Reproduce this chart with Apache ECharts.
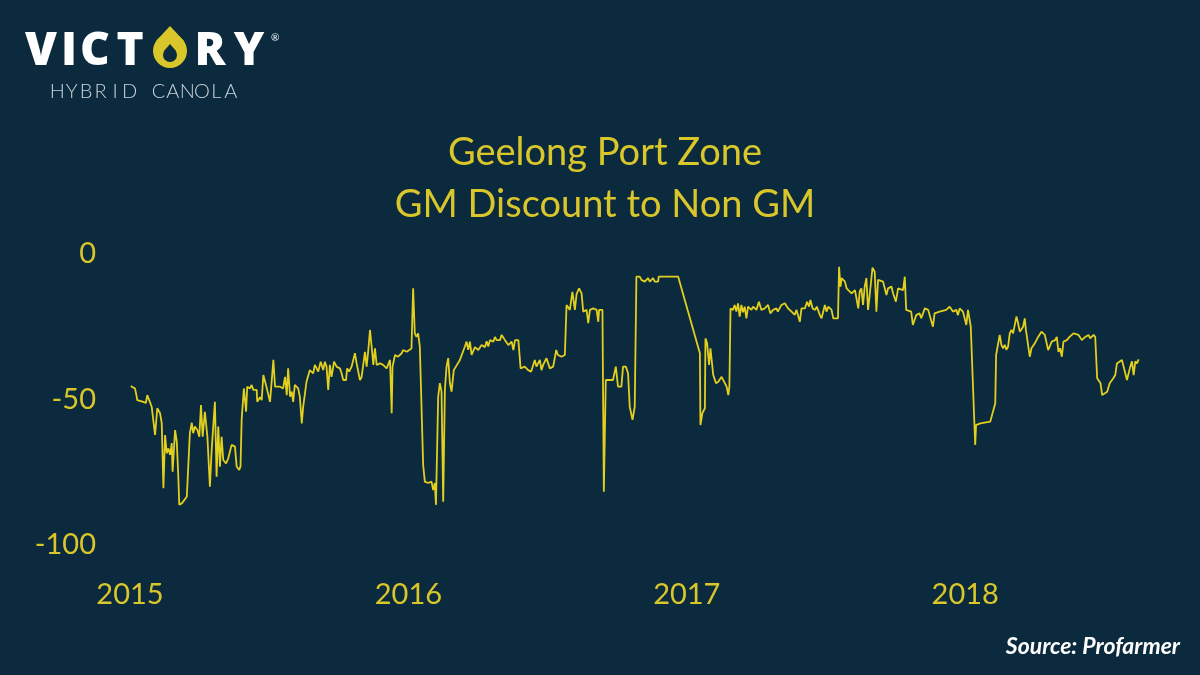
<!DOCTYPE html>
<html>
<head>
<meta charset="utf-8">
<script src="https://cdn.jsdelivr.net/npm/echarts@6/dist/echarts.min.js"></script>
<style>
html,body{margin:0;padding:0;background:#0b2a3d;}
#chart{width:1200px;height:675px;}
</style>
</head>
<body>
<div id="chart"></div>
<script>
// Time in decimal years
const years = [
2015.003,2015.018,2015.024,2015.026,2015.048,2015.057,2015.062,2015.078,2015.090,2015.098,
2015.108,2015.114,2015.120,2015.126,2015.132,2015.138,2015.144,2015.150,2015.153,2015.162,
2015.168,2015.173,2015.177,2015.186,2015.191,2015.204,2015.215,2015.222,2015.227,2015.233,
2015.242,2015.249,2015.255,2015.261,2015.269,2015.278,2015.287,2015.293,2015.305,2015.311,
2015.317,2015.323,2015.329,2015.335,2015.345,2015.353,2015.365,2015.377,2015.383,2015.392,
2015.397,2015.401,2015.409,2015.417,2015.421,2015.431,2015.437,2015.443,2015.455,2015.457,
2015.467,2015.473,2015.479,2015.491,2015.503,2015.515,2015.521,2015.539,2015.550,2015.557,
2015.563,2015.568,2015.575,2015.581,2015.586,2015.592,2015.599,2015.604,2015.610,2015.617,
2015.622,2015.634,2015.646,2015.658,2015.664,2015.676,2015.685,2015.694,2015.700,2015.706,
2015.712,2015.718,2015.724,2015.733,2015.742,2015.754,2015.760,2015.766,2015.776,2015.780,
2015.787,2015.796,2015.808,2015.814,2015.826,2015.832,2015.844,2015.850,2015.856,2015.862,
2015.868,2015.874,2015.880,2015.886,2015.892,2015.898,2015.909,2015.922,2015.927,2015.934,
2015.940,2015.943,2015.952,2015.963,2015.976,2015.981,2015.994,2015.999,2016.011,2016.017,
2016.023,2016.029,2016.035,2016.041,2016.053,2016.059,2016.071,2016.083,2016.089,2016.095,
2016.099,2016.107,2016.113,2016.119,2016.125,2016.131,2016.137,2016.143,2016.149,2016.155,
2016.161,2016.163,2016.185,2016.203,2016.209,2016.215,2016.221,2016.227,2016.239,2016.251,
2016.263,2016.275,2016.281,2016.287,2016.293,2016.305,2016.311,2016.317,2016.329,2016.335,
2016.347,2016.359,2016.371,2016.377,2016.383,2016.395,2016.400,2016.403,2016.418,2016.430,
2016.441,2016.454,2016.460,2016.472,2016.478,2016.484,2016.496,2016.508,2016.520,2016.531,
2016.537,2016.550,2016.562,2016.565,2016.568,2016.580,2016.589,2016.598,2016.604,2016.613,
2016.622,2016.628,2016.640,2016.646,2016.652,2016.664,2016.676,2016.682,2016.685,2016.697,
2016.702,2016.709,2016.735,2016.745,2016.753,2016.765,2016.771,2016.781,2016.789,2016.795,
2016.801,2016.805,2016.813,2016.819,2016.831,2016.837,2016.843,2016.849,2016.861,2016.867,
2016.879,2016.885,2016.897,2016.899,2016.969,2017.047,2017.049,2017.056,2017.065,2017.067,
2017.073,2017.080,2017.085,2017.095,2017.105,2017.113,2017.125,2017.131,2017.143,2017.149,
2017.153,2017.157,2017.166,2017.172,2017.178,2017.184,2017.190,2017.196,2017.202,2017.208,
2017.214,2017.220,2017.232,2017.238,2017.250,2017.259,2017.268,2017.280,2017.292,2017.300,
2017.310,2017.322,2017.327,2017.340,2017.352,2017.364,2017.376,2017.388,2017.394,2017.406,
2017.412,2017.424,2017.432,2017.439,2017.444,2017.452,2017.461,2017.467,2017.478,2017.484,
2017.496,2017.502,2017.508,2017.520,2017.526,2017.543,2017.547,2017.552,2017.556,2017.568,
2017.574,2017.592,2017.604,2017.616,2017.621,2017.627,2017.633,2017.639,2017.645,2017.651,
2017.657,2017.667,2017.675,2017.681,2017.687,2017.693,2017.705,2017.717,2017.723,2017.735,
2017.741,2017.751,2017.759,2017.765,2017.777,2017.783,2017.788,2017.806,2017.812,2017.824,
2017.836,2017.842,2017.855,2017.867,2017.879,2017.884,2017.890,2017.908,2017.914,2017.932,
2017.944,2017.956,2017.968,2017.974,2017.980,2017.992,2017.998,2018.004,2018.010,2018.016,
2018.020,2018.033,2018.036,2018.039,2018.054,2018.090,2018.108,2018.111,2018.124,2018.130,
2018.136,2018.142,2018.148,2018.154,2018.160,2018.166,2018.172,2018.184,2018.190,2018.196,
2018.202,2018.208,2018.214,2018.218,2018.223,2018.232,2018.238,2018.250,2018.262,2018.274,
2018.286,2018.298,2018.311,2018.323,2018.329,2018.335,2018.341,2018.347,2018.353,2018.365,
2018.375,2018.389,2018.395,2018.407,2018.419,2018.431,2018.443,2018.449,2018.461,2018.467,
2018.474,2018.486,2018.492,2018.497,2018.510,2018.519,2018.532,2018.539,2018.545,2018.551,
2018.563,2018.569,2018.581,2018.593,2018.599,2018.605,2018.611,2018.617,2018.623
];
// GM discount to non-GM ($/t)
const discount = [
-45.4,-46.2,-49.0,-50.2,-50.8,-51.2,-48.5,-52.5,-62.2,-53.0,
-54.7,-58.2,-80.5,-62.2,-68.5,-66.8,-69.0,-65.0,-74.8,-60.5,
-64.5,-75.3,-86.2,-85.7,-86.2,-83.4,-61.6,-58.0,-61.6,-59.3,
-60.5,-62.8,-51.9,-62.8,-54.2,-62.8,-80.0,-67.9,-50.8,-76.5,
-59.3,-73.1,-62.8,-70.8,-72.0,-70.2,-65.6,-66.2,-73.0,-74.2,
-73.0,-57.0,-46.2,-54.2,-45.6,-46.2,-45.0,-46.7,-46.7,-50.8,
-49.2,-50.2,-41.6,-46.0,-50.8,-36.4,-45.6,-45.6,-46.2,-42.2,
-48.5,-39.3,-49.0,-47.3,-50.8,-45.0,-44.4,-46.2,-49.0,-58.2,
-52.5,-43.9,-39.9,-41.0,-38.1,-40.4,-37.0,-39.9,-37.0,-38.7,
-46.7,-38.1,-42.2,-37.0,-38.7,-39.3,-41.0,-43.3,-43.3,-39.3,
-40.4,-38.7,-34.1,-37.6,-43.3,-42.2,-33.6,-38.7,-33.0,-26.1,
-31.8,-38.1,-32.4,-38.1,-38.7,-37.6,-38.1,-39.3,-38.7,-36.4,
-54.7,-38.7,-34.7,-35.3,-34.1,-33.0,-33.6,-33.0,-32.5,-11.8,
-27.3,-28.5,-27.3,-31.8,-72.5,-78.2,-78.7,-78.2,-81.1,-78.7,
-86.2,-49.0,-44.4,-47.3,-85.1,-46.7,-38.7,-35.8,-44.4,-47.3,
-47.0,-39.9,-36.4,-31.8,-30.1,-32.9,-30.1,-34.7,-32.0,-33.0,
-31.3,-32.0,-30.0,-31.8,-29.6,-30.1,-28.5,-29.6,-29.6,-27.8,
-29.6,-31.3,-30.1,-33.0,-29.6,-29.6,-29.0,-39.3,-38.7,-39.9,
-40.4,-36.4,-38.7,-36.4,-39.9,-38.1,-35.8,-39.3,-38.7,-33.0,
-34.7,-35.3,-34.7,-35.3,-17.5,-19.2,-13.0,-19.2,-13.8,-11.8,
-13.5,-19.8,-19.2,-23.8,-19.2,-18.7,-19.2,-23.3,-19.2,-19.2,
-81.7,-43.3,-43.3,-38.7,-45.6,-45.6,-38.7,-38.7,-41.0,-52.5,
-52.5,-57.0,-52.5,-7.8,-7.8,-8.9,-8.3,-9.5,-8.3,-9.5,
-8.3,-9.5,-9.5,-7.8,-7.8,-34.1,-58.8,-54.7,-53.0,-29.0,
-30.7,-38.1,-32.4,-41.6,-44.4,-43.9,-42.2,-41.6,-45.6,-48.5,
-45.6,-18.7,-19.2,-17.5,-19.8,-17.0,-21.5,-17.5,-20.0,-18.1,
-22.1,-18.1,-19.2,-18.1,-19.2,-16.4,-19.2,-18.7,-17.5,-20.4,
-19.2,-18.7,-19.8,-17.5,-16.9,-18.7,-19.8,-20.9,-19.2,-23.3,
-18.7,-18.7,-16.4,-18.1,-15.8,-18.7,-19.2,-18.1,-21.0,-22.1,
-17.5,-19.8,-18.1,-19.2,-22.1,-22.1,-4.4,-11.2,-8.3,-9.5,
-11.8,-13.5,-12.4,-18.7,-12.9,-11.8,-17.5,-11.2,-8.3,-19.2,
-14.1,-4.7,-6.1,-19.8,-8.9,-9.5,-9.5,-14.1,-11.8,-11.2,
-13.5,-16.4,-11.8,-11.2,-12.4,-7.8,-19.2,-19.8,-24.4,-21.0,
-20.4,-22.1,-18.7,-19.2,-23.3,-25.0,-20.4,-19.8,-19.2,-19.2,
-18.1,-19.8,-19.2,-21.0,-18.7,-19.8,-20.4,-24.4,-19.2,-18.7,
-25.0,-58.2,-65.6,-58.8,-58.2,-57.6,-51.3,-34.7,-27.8,-31.2,
-32.4,-31.2,-32.9,-31.8,-27.3,-26.1,-27.3,-21.5,-23.8,-26.7,
-26.1,-25.0,-22.1,-26.1,-26.1,-35.3,-32.4,-30.7,-28.5,-26.7,
-27.8,-33.0,-30.1,-29.6,-28.5,-33.6,-32.4,-35.3,-30.1,-29.6,
-28.5,-27.3,-26.7,-27.8,-29.6,-28.5,-27.8,-29.0,-27.8,-28.5,
-42.7,-44.4,-48.5,-49.0,-47.3,-44.4,-42.7,-41.6,-37.6,-38.1,
-36.4,-38.7,-43.3,-38.7,-36.9,-41.6,-36.9,-37.6,-36.2
];
const yTicks = [-100, -50, 0];
const yearTicks = [2015, 2016, 2017, 2018];
const titleLines = ['Geelong Port Zone', 'GM Discount to Non GM'];

const YEL = '#d9c62b';
const LINE = '#e2cf1e';
const BG = '#0b2a3d';
const FONT = 'Lato, "Open Sans", sans-serif';

const seriesData = years.map((y, i) => [y, discount[i]]);

// Logo letters (brand wordmark), drawn one by one for spacing
const logoLetters = [['V', 41], ['I', 69], ['C', 95], ['T', 130], ['R', 210], ['Y', 249]];
const tagline = 'HYBRID CANOLA'.split('');

const logoGraphics = logoLetters.map(([ch, cx]) => ({
  type: 'text', x: cx, y: 52,
  style: {
    text: ch, fill: '#ffffff', fontFamily: '"Open Sans", sans-serif', fontWeight: 800,
    fontSize: 46, align: 'center', verticalAlign: 'middle'
  }
}));
const tagGraphics = [];
{
  const x0 = 50, x1 = 238, n = tagline.length;
  const slot = (x1 - x0) / n;
  tagline.forEach((ch, i) => {
    if (ch === ' ') return;
    tagGraphics.push({
      type: 'text', x: x0 + slot * (i + 0.5), y: 92,
      style: { text: ch, fill: '#c9d3db', fontFamily: FONT, fontWeight: 300, fontSize: 20, align: 'center', verticalAlign: 'middle' }
    });
  });
}

const chart = echarts.init(document.getElementById('chart'));
chart.setOption({
  backgroundColor: BG,
  animation: false,
  title: {
    text: titleLines.join('\n'),
    left: 600, top: 122, textAlign: 'center',
    textStyle: { color: YEL, fontFamily: FONT, fontSize: 38, fontWeight: 'normal', lineHeight: 52 }
  },
  grid: { left: 130, right: 26, top: 254, bottom: 130, containLabel: false },
  xAxis: {
    type: 'value', min: 2015, max: 2018.75, interval: 1,
    axisLine: { show: false }, axisTick: { show: false }, splitLine: { show: false },
    axisLabel: {
      color: YEL, fontFamily: FONT, fontSize: 29, margin: 35,
      formatter: v => (yearTicks.indexOf(v) >= 0 ? String(v) : '')
    }
  },
  yAxis: {
    type: 'value', min: yTicks[0], max: yTicks[yTicks.length - 1], interval: 50,
    axisLine: { show: false }, axisTick: { show: false }, splitLine: { show: false },
    axisLabel: { color: YEL, fontFamily: FONT, fontSize: 29, margin: 34 }
  },
  series: [{
    type: 'line', data: seriesData, showSymbol: false, symbol: 'none',
    lineStyle: { color: LINE, width: 1.8 }, silent: true
  }],
  graphic: [].concat(logoGraphics, tagGraphics, [
    { type: 'circle', shape: { cx: 170, cy: 51, r: 17 }, style: { fill: YEL } },
    { type: 'polygon', shape: { points: [[170, 26], [184, 41], [156, 41]] }, style: { fill: YEL } },
    { type: 'circle', shape: { cx: 170, cy: 55, r: 7 }, style: { fill: BG } },
    { type: 'polygon', shape: { points: [[170, 44], [176, 51], [164, 51]] }, style: { fill: BG } },
    {
      type: 'text', left: 271, top: 33,
      style: { text: '®', fill: '#ffffff', fontSize: 10, fontFamily: FONT }
    },
    {
      type: 'text', right: 20, top: 635,
      style: { text: 'Source: Profarmer', fill: '#ffffff', fontFamily: FONT, fontSize: 23, fontWeight: 'bold', fontStyle: 'italic' }
    }
  ])
});
</script>
</body>
</html>
